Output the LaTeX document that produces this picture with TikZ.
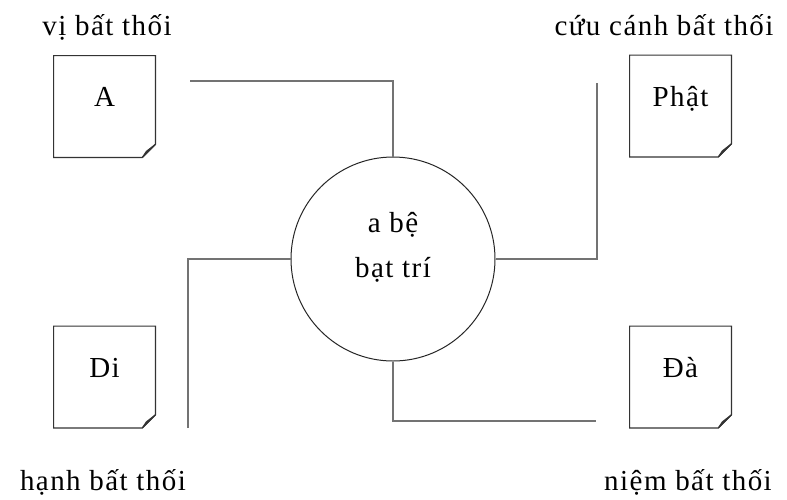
\documentclass[tikz,border=0pt]{standalone}
\usepackage{fontspec}
\setmainfont{Liberation Serif}[LetterSpace=5]
\newcommand{\dogear}[1]{%
  \draw[page line] (#1.north west) -- (#1.north east) -- ([yshift=6.5pt]#1.south east)
    -- ([xshift=-6.5pt]#1.south east) -- (#1.south west) -- cycle;
  \filldraw[page line, fill=gray!35] ([yshift=6.5pt]#1.south east) -- ([xshift=-6.5pt]#1.south east)
    -- ([xshift=-4.5pt,yshift=3pt]#1.south east) -- cycle;}
\begin{document}
\begin{tikzpicture}[x=0.5pt, y=-0.5pt,
  page line/.style={draw=black!80, line width=0.6pt},
  page/.style={minimum size=50.5pt, inner sep=0pt, text height=9pt, text depth=9pt,
    font=\fontsize{14.5}{16}\selectfont},
  core/.style={circle, draw=black!85, line width=0.5pt, minimum size=102pt, inner sep=0pt,
    align=center, text height=27pt, text depth=9pt, font=\fontsize{14.5}{22.5}\selectfont},
  tag/.style={anchor=base, inner sep=0pt, font=\fontsize{14.5}{16}\selectfont},
  link/.style={draw=black!55, line width=0.8pt}]
\useasboundingbox (0,0) rectangle (787,499);
% the four pages
\node[page] (A) at (104.5,106.5) {A};
\node[page] (phat) at (680.5,106) {Phật};
\node[page] (di) at (104.5,377) {Di};
\node[page] (da) at (680.5,377) {Đà};
\foreach \n in {A,phat,di,da} {\dogear{\n}}
% centre
\node[core] (tri) at (393,259) {a bệ\\bạt trí};
% labels
\node[tag] (vi) at (107,35) {vị bất thối};
\node[tag] (cuu) at (664,35) {cứu cánh bất thối};
\node[tag] (hanh) at (103,490) {hạnh bất thối};
\node[tag] (niem) at (688,490) {niệm bất thối};
% connectors
\coordinate (aend) at (190,81);
\coordinate (phatend) at (597,83);
\coordinate (diend) at (188,428);
\coordinate (daend) at (596,421);
\draw[link] (aend) -| (tri.north);
\draw[link] (phatend) |- (tri.east);
\draw[link] (diend) |- (tri.west);
\draw[link] (tri.south) |- (daend);
\end{tikzpicture}
\end{document}
